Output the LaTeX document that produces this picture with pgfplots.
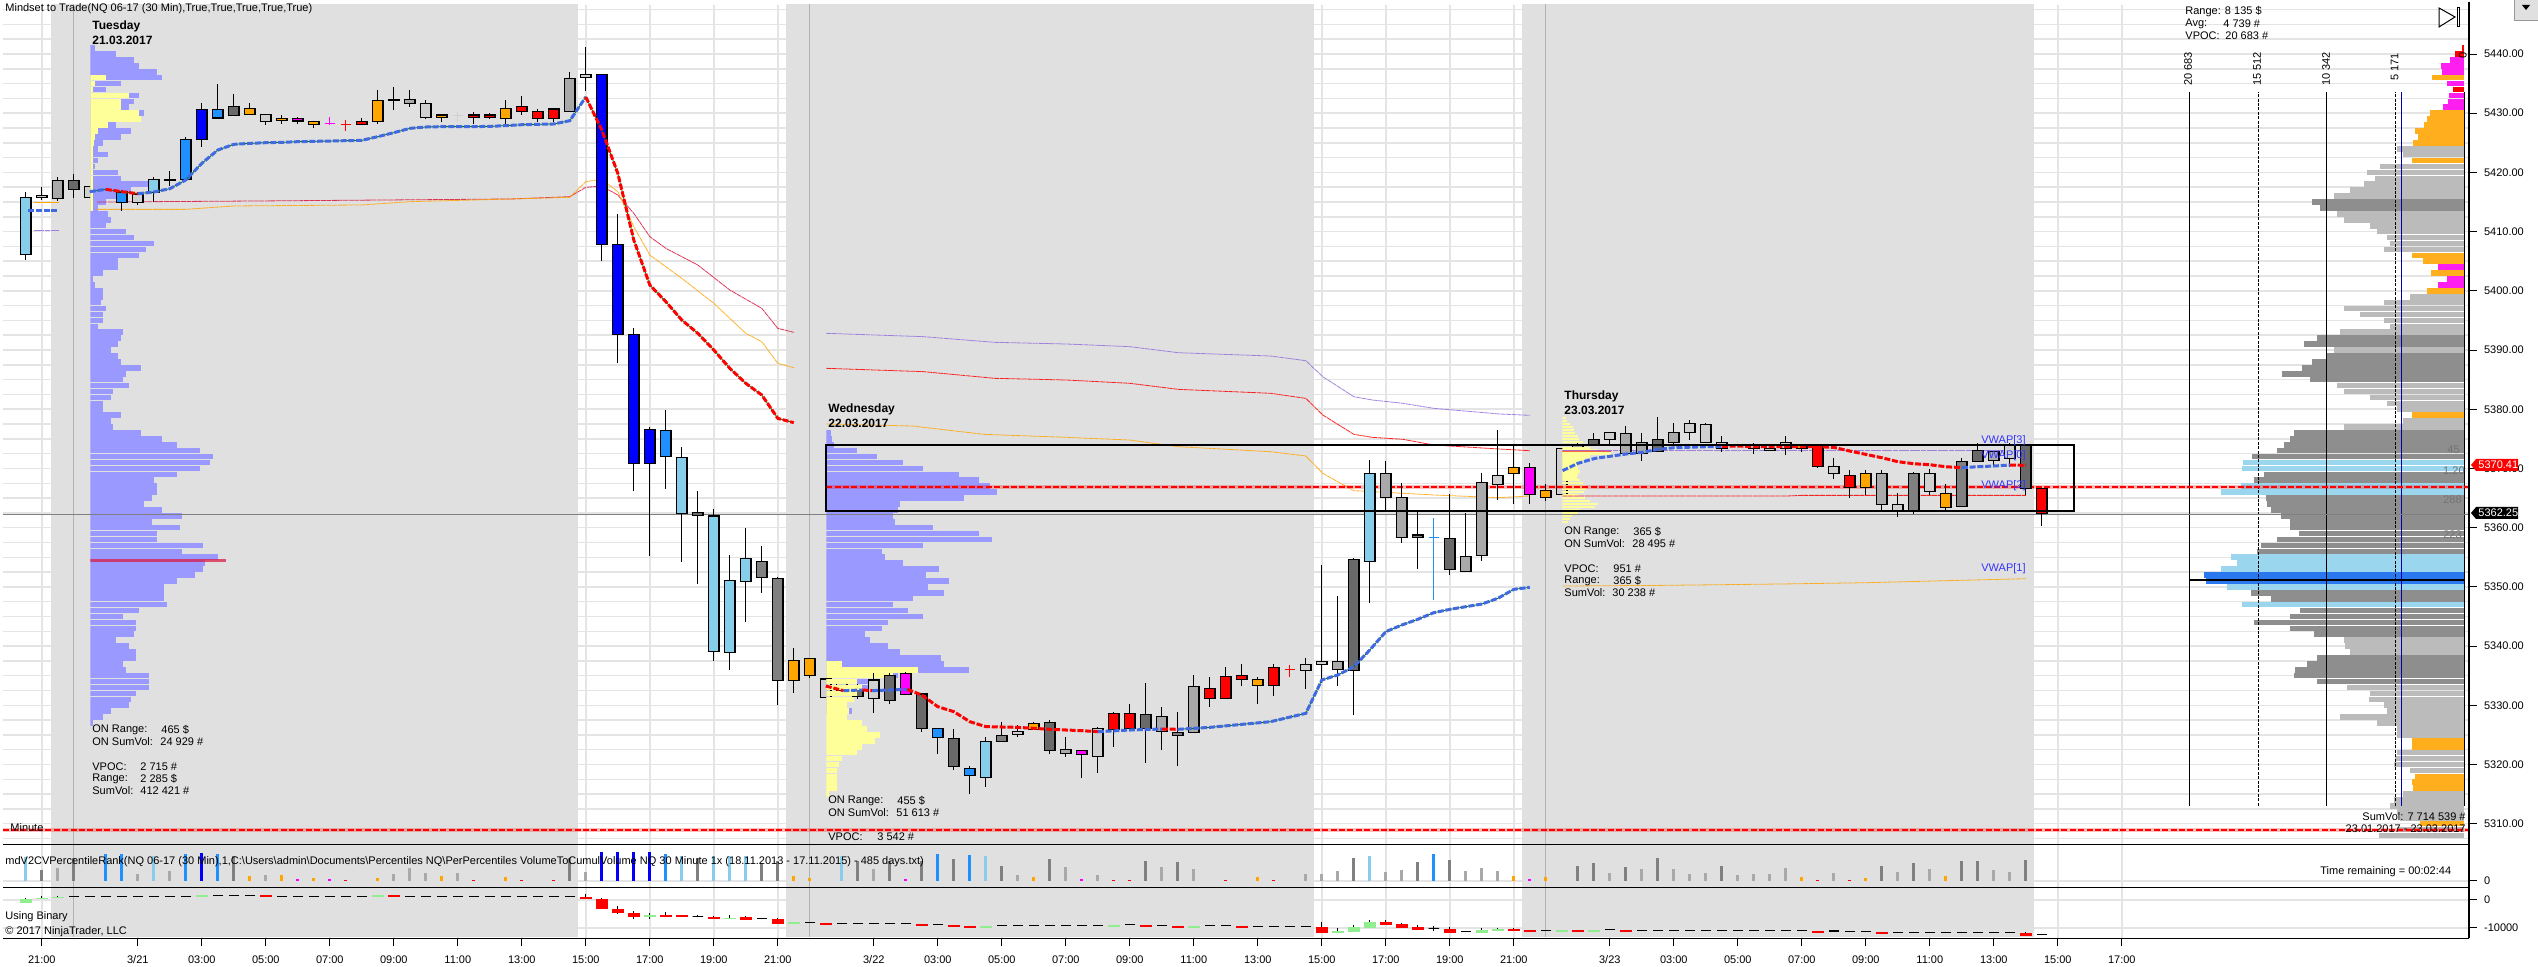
\documentclass[border=0pt]{standalone}
\usepackage{fontspec}
\setmainfont{Liberation Sans}
\usepackage{pgfplots}
\pgfplotsset{compat=1.18}
\definecolor{cSky}{HTML}{87CEEB}\definecolor{cBlu}{HTML}{0000FF}\definecolor{cDod}{HTML}{1E90FF}
\definecolor{cDim}{HTML}{696969}\definecolor{cMid}{HTML}{808080}\definecolor{cGr}{HTML}{A9A9A9}
\definecolor{cLt}{HTML}{D0D0D0}\definecolor{cOr}{HTML}{FFA500}\definecolor{cRed}{HTML}{FF0000}
\definecolor{cMag}{HTML}{FF00FF}\definecolor{cSess}{HTML}{E0E0E0}\definecolor{cGrid}{HTML}{E4E4E4}
\definecolor{cVP}{HTML}{9999FF}\definecolor{cYel}{HTML}{FFFF99}\definecolor{cGrn}{HTML}{90EE90}
\definecolor{cRoy}{HTML}{4169E1}\definecolor{cCri}{HTML}{DC143C}\definecolor{cPur}{HTML}{9370DB}
\definecolor{cRL}{HTML}{BBBBBB}\definecolor{cRD}{HTML}{8E8E8E}\definecolor{cRS}{HTML}{9AD6EE}
\definecolor{cRB}{HTML}{2A78F0}\definecolor{cRO}{HTML}{FFAF1E}\definecolor{cRM}{HTML}{FF1EF0}
\newcommand\ft{\fontsize{5.5pt}{6.5pt}\selectfont}
\newcommand\fb{\fontsize{6pt}{6.6pt}\selectfont\bfseries}
\newcommand\N[4]{\node[inner sep=0pt,font=\ft,#1] at ({(#2)*0.5pt},{(967-(#3))*0.5pt}) {#4};}
\newcommand\T[3]{\N{anchor=west}{#1}{#2}{#3}}
\newcommand\B[3]{\N{anchor=west,font=\fb}{#1}{#2}{#3}}
\newcommand\candle[6]{\pgfmathsetmacro\xa{#1-.325}\pgfmathsetmacro\xb{#1+.325}%
 \addplot[black,line width=.5pt,forget plot] coordinates {(#1,#2)(#1,#3)};%
 \addplot[fill=#6,draw=black,line width=.6pt,forget plot] coordinates {(\xa,#4)(\xb,#4)(\xb,#5)(\xa,#5)} -- cycle;}
\newcommand\doji[5]{\pgfmathsetmacro\xa{#1-.325}\pgfmathsetmacro\xb{#1+.325}%
 \addplot[#5,line width=.5pt,forget plot] coordinates {(#1,#2)(#1,#3)};%
 \addplot[#5,line width=.6pt,forget plot] coordinates {(\xa,#4)(\xb,#4)};}
\newcommand\pc[6]{\pgfmathsetmacro\xa{#1-.325}\pgfmathsetmacro\xb{#1+.325}%
 \addplot[black,line width=.5pt,forget plot] coordinates {(#1,#2)(#1,#3)};%
 \addplot[fill=#6,draw=#6,line width=.3pt,forget plot] coordinates {(\xa,#4)(\xb,#4)(\xb,#5)(\xa,#5)} -- cycle;}
\pgfplotsset{
 shx/.style={xmin=-2.425,xmax=151.7,width=1233pt,scale only axis,
  xtick={0,6,10,14,18,22,26,30,34,38,42,46,52,56,60,64,68,72,76,80,84,88,92,98,102,106,110,114,118,122,126,130},
  major grid style={cGrid,line width=.75pt},minor grid style={cGrid,line width=.75pt},
  axis line style={-},tick align=outside,tick style={black,line width=.5pt},major tick length=4pt,minor tick length=0pt,
  ticklabel style={font=\ft},y tick label style={/pgf/number format/.cd,assume math mode=true,1000 sep={}}},
 sh1/.style={ymin=5306.52,ymax=5448.28,height=419.65pt},
 ovl/.style={sh1,scale only axis,hide axis,enlargelimits=false},
 thl/.style={line width=.4pt,opacity=.85,dash pattern=on 2.5pt off .3pt},
 tkb/.style={draw=cRoy,line width=1.5pt,dash pattern=on 3pt off .9pt},
 tkr/.style={draw=cRed,line width=1.5pt,dash pattern=on 3pt off .9pt},
 tkg/.style={draw=green!45!black,line width=.4pt},
 rowA/.style={xcomb,line width=2.8pt}
}
\begin{document}
\begin{tikzpicture}
\fill[white] (0,0) rectangle (1269pt,483.5pt);
\path[use as bounding box] (0,0) rectangle (1269pt,483.5pt);
%%%%%%%% main panel: grid, sessions, candles hidden behind the profiles
\begin{axis}[shx,sh1,at={(1.5pt,61.35pt)},anchor=south west,
 axis y line*=right,axis x line*=bottom,xticklabels={},x tick style={draw=none},xmajorgrids,
 ytick={5310,5320,...,5440},minor ytick={5307.5,5310,...,5447.5},yminorgrids,
 y tick label style={/pgf/number format/.cd,fixed,fixed zerofill,precision=2,1000 sep={},assume math mode=true}]
\addplot[fill=cSess,draw=none] coordinates {(.55,5306)(33.5,5306)(33.5,5449)(.55,5449)} -- cycle;
\addplot[fill=cSess,draw=none] coordinates {(46.5,5306)(79.5,5306)(79.5,5449)(46.5,5449)} -- cycle;
\addplot[fill=cSess,draw=none] coordinates {(92.5,5306)(124.5,5306)(124.5,5449)(92.5,5449)} -- cycle;
\addplot[draw=black!30,line width=.5pt] coordinates {(2,5306)(2,5449)};
\addplot[draw=black!30,line width=.5pt] coordinates {(48,5306)(48,5449)};
\addplot[draw=black!30,line width=.5pt] coordinates {(94,5306)(94,5449)};
\candle{3}{5417.65}{5415.73}{5417.65}{5415.73}{cLt}
\candle{4}{5419.28}{5415.9}{5417.31}{5416.47}{cLt}
\candle{49}{5334.44}{5331.34}{5334.44}{5331.34}{cLt}
\candle{50}{5334.4}{5331.5}{5333.7}{5332.58}{cLt}
\candle{51}{5334}{5331}{5333.14}{5331.45}{cDim}
\candle{95}{5373.39}{5365.62}{5373.39}{5365.62}{cLt}
\candle{96}{5374.5}{5372}{5373.95}{5373.1}{cGr}
\end{axis}
%%%%%%%% profile day 1
\begin{axis}[ovl,at={(45.15pt,61.35pt)},anchor=south west,width=160pt,xmin=0,xmax=6272]
\addplot[rowA,cVP] coordinates {(100,5441)(500,5440)(850,5439)(950,5438)(1300,5437)(1400,5436)(600,5435)(300,5434)(950,5433)(850,5432)(750,5431)(1050,5430)(1000,5429)(500,5428)(800,5427)(600,5426)(250,5425)(150,5424)(350,5423)(150,5422)(100,5421)(550,5420)(600,5419)(1150,5418)(800,5417)(600,5416)(300,5415)(150,5414)(350,5413)(400,5412)(300,5411)(700,5410)(850,5409)(1250,5408)(1100,5407)(950,5406)(550,5405)(550,5404)(250,5403)(50,5402)(100,5401)(250,5400)(250,5399)(200,5398)(300,5397)(250,5396)(250,5395)(150,5394)(650,5393)(600,5392)(550,5391)(400,5390)(550,5389)(600,5388)(1000,5387)(700,5386)(650,5385)(750,5384)(450,5383)(400,5382)(250,5381)(250,5380)(600,5379)(400,5378)(450,5377)(1000,5376)(1400,5375)(1700,5374)(2150,5373)(2400,5372)(2350,5371)(2150,5370)(1700,5369)(1250,5368)(1300,5367)(1300,5366)(1200,5365)(1050,5364)(1400,5363)(1800,5362)(1200,5361)(1750,5360)(1300,5359)(1300,5358)(2200,5357)(1800,5356)(2500,5355)(2250,5354)(2200,5353)(2050,5352)(1700,5351)(1450,5350)(1450,5349)(1450,5348)(1500,5347)(950,5346)(650,5345)(900,5344)(900,5343)(850,5342)(500,5341)(750,5340)(900,5339)(900,5338)(650,5337)(700,5336)(1150,5335)(1150,5334)(1150,5333)(900,5332)(800,5331)(750,5330)(400,5329)(250,5328)(50,5327)};
\addplot[rowA,cYel] coordinates {(300,5436)(100,5435)(50,5434)(750,5433)(600,5432)(600,5431)(950,5430)(1000,5429)(350,5428)(150,5427)(100,5426)(80,5425)(50,5424)(50,5423)(50,5422)(50,5421)(50,5420)(50,5419)(50,5418)(50,5417)(50,5416)(50,5415)(50,5414)};
\addplot[xcomb,line width=1.5pt,draw=cCri,opacity=.7] coordinates {(2650,5354.4)};
\end{axis}
%%%%%%%% profile day 2
\begin{axis}[ovl,at={(413.15pt,61.35pt)},anchor=south west,width=160pt,xmin=0,xmax=6272]
\addplot[rowA,cVP] coordinates {(100,5376)(120,5375)(150,5374)(600,5373)(1000,5372)(1500,5371)(1900,5370)(2600,5369)(3000,5368)(3200,5367)(3350,5366)(2700,5365)(1450,5364)(1400,5363)(1300,5362)(1350,5361)(2100,5360)(3000,5359)(3250,5358)(1900,5357)(1100,5356)(1150,5355)(1500,5354)(2200,5353)(1950,5352)(2400,5351)(2000,5350)(2300,5349)(1700,5348)(1300,5347)(1600,5346)(1900,5345)(1200,5344)(1100,5343)(750,5342)(850,5341)(1200,5340)(1450,5339)(2250,5338)(2300,5337)(2800,5336)(1400,5335)(1000,5334)(850,5333)(600,5332)(550,5331)(400,5330)(500,5329)};
\addplot[rowA,cYel] coordinates {(300,5337)(1800,5336)(1300,5335)(600,5334)(700,5333)(600,5332)(550,5331)(400,5330)(450,5329)(400,5328)(700,5327)(800,5326)(1050,5325)(950,5324)(700,5323)(600,5322)(300,5321)(250,5320)(200,5319)(200,5318)(200,5317)(200,5316)(50,5315)};
\end{axis}
%%%%%%%% profile day 3
\begin{axis}[ovl,at={(781.15pt,61.35pt)},anchor=south west,width=60pt,xmin=0,xmax=2352]
\addplot[xcomb,line width=1.2pt,cYel] coordinates {(70,5378.5)(100,5378)(150,5377.5)(200,5377)(230,5376.5)(240,5376)(300,5375.5)(330,5375)(400,5374.5)(450,5374)(550,5373.5)(700,5373)(951,5372.5)(550,5372)(450,5371.5)(350,5371)(280,5370.5)(300,5370)(350,5369.5)(300,5369)(280,5368.5)(350,5368)(400,5367.5)(450,5367)(470,5366.5)(430,5366)(300,5365.5)(450,5365)(550,5364.5)(700,5364)(650,5363.5)(350,5363)(300,5362.5)(180,5362)(150,5361.5)(120,5361)};
\addplot[xcomb,line width=1.2pt,draw=cRed,opacity=.6] coordinates {(951,5372.94)};
\end{axis}
%%%%%%%% right-hand volume profile
\begin{axis}[ovl,at={(1094.65pt,61.35pt)},anchor=south west,width=137.5pt,xmin=0,xmax=20683,x dir=reverse,clip=false]
\addplot[rowA,cRL] coordinates {(5075,5424)(4575,5423)(6325,5421)(7325,5420)(6700,5419)(7575,5418)(8575,5417)(9825,5416)(9575,5413)(9075,5412)(7075,5411)(6575,5410)(5825,5409)(5575,5408)(6075,5407)(4075,5399)(6075,5398)(9075,5397)(7825,5396)(6075,5395)(5575,5394)(9325,5393)(9825,5390)(9575,5384)(9075,5383)(7075,5382)(5825,5381)(5075,5380)(4575,5378)(9075,5377)(9075,5341)(8950,5340)(8575,5339)(8825,5333)(7075,5332)(7200,5331)(6075,5330)(5825,5329)(9325,5328)(6575,5327)(5075,5326)(5075,5325)(5075,5322)(5200,5321)(5325,5320)(4075,5319)(4575,5315)(5325,5314)(5575,5313)(5075,5312)(4825,5311)(5075,5309)(6450,5308)};
\addplot[rowA,cRD] coordinates {(11450,5415)(10825,5414)(11075,5392)(12075,5391)(10325,5389)(11450,5388)(12200,5387)(13700,5386)(11575,5385)(12825,5376)(13075,5375)(13575,5374)(14075,5373)(15950,5372)(15075,5369)(15825,5368)(14950,5365)(14825,5364)(14575,5363)(13825,5362)(13075,5361)(13075,5360)(12450,5359)(14075,5358)(15325,5357)(15575,5356)(16075,5349)(14575,5348)(12325,5346)(13075,5345)(15825,5344)(13075,5343)(11325,5342)(11075,5338)(11825,5337)(12700,5336)(12825,5335)(11075,5334)};
\addplot[rowA,cRS] coordinates {(16625,5371)(16700,5370)(16825,5367)(18325,5366)(17575,5355)(17075,5354)(18325,5353)(17825,5350)(16700,5347)};
\addplot[rowA,cRB] coordinates {(19575,5352)(19450,5351)};
\addplot[rowA,cRO] coordinates {(2450,5436)(2575,5430)(2825,5429)(3025,5428)(3700,5427)(3450,5426)(3825,5425)(3950,5422)(3950,5406)(3075,5405)(2500,5403)(2825,5400)(3950,5379)(3950,5324)(3950,5323)(3700,5318)(3950,5317)(3825,5316)(3325,5310)};
\addplot[rowA,cRM] coordinates {(1075,5439)(1775,5438)(1700,5437)(1325,5435)(1125,5433)(1200,5432)(1575,5431)(1950,5404)(1325,5402)(1950,5401)};
\addplot[rowA,cRed] coordinates {(200,5441)(700,5440)(825,5434)};
\addplot[black,line width=.5pt] coordinates {(20683,5313.05)(20683,5433.6)};
\addplot[black,line width=.5pt,dash pattern=on 1.5pt off .7pt] coordinates {(15512,5313.05)(15512,5433.6)};
\addplot[black,line width=.5pt] coordinates {(10342,5313.05)(10342,5433.6)};
\addplot[black,line width=.5pt,dash pattern=on 1.5pt off .7pt] coordinates {(5171,5313.05)(5171,5433.6)};
\addplot[blue!70!black,line width=.5pt] coordinates {(4739,5313.05)(4739,5433.6)};
\addplot[black,line width=.5pt] coordinates {(0,5313.05)(0,5433.6)};
\addplot[black,line width=.75pt] coordinates {(20683,5351.2)(0,5351.2)};
\end{axis}
%%%%%%%% candles and VWAP lines on top
\begin{axis}[shx,ovl,at={(1.5pt,61.35pt)},anchor=south west,xtick=\empty]
\addplot[cCri,thl] coordinates {(3.44,5415)(13.3,5415.17)(29.3,5415.51)(33,5415.9)(34,5417.48)(35,5417.7)(36,5416.18)(37,5413.09)(38,5409.15)(39,5407.18)(41,5404.36)(43,5400.14)(45,5397.04)(46,5393.66)(47,5392.99)};
\addplot[cOr,thl] coordinates {(3.44,5413.76)(9,5413.76)(12,5414.33)(20,5414.5)(23,5415.06)(29.3,5415.51)(33,5415.79)(34,5418.44)(35,5418.83)(36,5416.75)(37,5410.84)(38,5406.05)(40,5402.11)(42,5397.89)(44,5392.82)(45,5391.41)(46,5387.75)(47,5387.02)};
\addplot[cOr,line width=.6pt] coordinates {(-.5,5414.95)(1.05,5414.95)};
\addplot[cPur,thl] coordinates {(-.5,5410.16)(1.05,5410.16)};
\addplot[cPur,thl] coordinates {(49.03,5392.82)(55.09,5392.26)(59.56,5391.3)(64.02,5391.02)(68,5390.57)(71.03,5389.55)(76.8,5388.99)(79,5388.2)(80.06,5385.5)(82,5382.12)(83.16,5381.56)(85.07,5381)(87,5380.15)(91.1,5379.2)(93,5378.97)};
\addplot[cRed,thl] coordinates {(49.03,5386.91)(55.09,5386.35)(59.56,5385.22)(64.02,5384.94)(68,5384.38)(71.03,5383.36)(76.8,5382.69)(79,5381.84)(80.06,5379.03)(82,5375.76)(83.16,5375.25)(85.07,5374.92)(87,5373.96)(91.1,5373.28)(93,5373)};
\addplot[cOr,thl] coordinates {(49.03,5377.51)(54.4,5377.17)(58.9,5375.76)(64.02,5375.25)(68,5374.8)(71.03,5373.68)(76.8,5372.83)(79,5372.1)(80.06,5369.17)(82,5366.25)(83.16,5366.08)(85.07,5365.8)(87,5365.52)(91.1,5365.07)(93,5365.35)};
\addplot[cPur,thl] coordinates {(95.05,5373.05)(124,5373.05)};
\addplot[cRed,thl] coordinates {(95.05,5365.34)(109,5365.34)(110,5365.45)(124,5365.45)};
\addplot[cOr,thl] coordinates {(95.05,5350.14)(101.2,5350.25)(108.6,5350.48)(114,5350.7)(124,5351.38)};
%% horizontal reference lines
\addplot[cMid,line width=.6pt] coordinates {(-2.4,5362.25)(151.7,5362.25)};
\addplot[cRed,opacity=.25,line width=2pt] coordinates {(-2.4,5308.9)(151.7,5308.9)};
\addplot[cRed,line width=1pt,dash pattern=on 3pt off 1.2pt] coordinates {(-2.4,5308.9)(151.7,5308.9)};
\addplot[cRed,opacity=.25,line width=2pt] coordinates {(49.03,5366.9)(151.7,5366.9)};
\addplot[cRed,line width=1pt,dash pattern=on 3pt off 1.2pt] coordinates {(49.03,5366.9)(151.7,5366.9)};
%% candles
\candle{-1}{5416.63}{5405.26}{5415.79}{5406.16}{cSky}
\candle{0}{5417.59}{5415.34}{5416.13}{5415.79}{cLt}
\candle{1}{5419.17}{5415.17}{5418.66}{5415.57}{cGr}
\candle{2}{5419.68}{5415.68}{5418.66}{5417.14}{cDim}
\candle{5}{5417.03}{5413.54}{5416.69}{5414.89}{cDod}
\candle{6}{5416.75}{5414.5}{5416.35}{5414.89}{cLt}
\candle{7}{5419.28}{5414.95}{5418.77}{5416.58}{cSky}
\candle{8}{5420.18}{5417.7}{5418.83}{5418.61}{black}
\candle{9}{5425.92}{5418.72}{5425.59}{5418.77}{cDod}
\candle{10}{5431.72}{5424.29}{5430.65}{5425.59}{cBlu}
\candle{11}{5434.93}{5429.02}{5430.65}{5429.19}{cDod}
\candle{12}{5433.24}{5429.58}{5431.16}{5429.58}{cDim}
\candle{13}{5431.72}{5429.75}{5430.82}{5429.75}{cOr}
\candle{14}{5429.81}{5428.01}{5429.81}{5428.63}{cLt}
\candle{15}{5429.64}{5428.18}{5429.13}{5428.8}{cOr}
\candle{16}{5429.3}{5428.23}{5429.13}{5428.68}{cMag}
\candle{17}{5428.74}{5427.5}{5428.63}{5428.12}{cOr}
\doji{18}{5429.3}{5427.95}{5428.29}{cMag}
\doji{19}{5428.8}{5426.99}{5428.12}{cRed}
\candle{20}{5429.19}{5428.06}{5428.63}{5428.06}{cRed}
\candle{21}{5433.92}{5428.23}{5432.17}{5428.63}{cOr}
\candle{22}{5434.43}{5430.54}{5432.34}{5432.12}{black}
\candle{23}{5433.92}{5431.05}{5432.34}{5431.61}{cGr}
\candle{24}{5432.23}{5429.08}{5431.67}{5429.25}{cLt}
\candle{25}{5429.7}{5428.51}{5429.7}{5429.25}{cOr}
\doji{26}{5430.2}{5428.57}{5429.64}{cLt}
\candle{27}{5430.15}{5428.18}{5429.7}{5429.25}{cRed}
\candle{28}{5429.98}{5429.08}{5429.7}{5429.25}{cRed}
\candle{29}{5432.23}{5428.18}{5430.82}{5429.13}{cOr}
\candle{30}{5432.91}{5429.7}{5431.16}{5430.32}{cRed}
\candle{31}{5430.77}{5428.46}{5430.32}{5429.08}{cRed}
\candle{32}{5430.82}{5428.46}{5430.71}{5429.08}{cRed}
\candle{33}{5436.9}{5430.26}{5435.89}{5430.32}{cGr}
\candle{34}{5441.18}{5433.81}{5436.57}{5436}{cLt}
\candle{35}{5436.57}{5405.09}{5436.57}{5407.8}{cBlu}
\candle{36}{5412.98}{5387.81}{5407.85}{5392.65}{cBlu}
\candle{37}{5393.72}{5366.19}{5392.65}{5370.81}{cBlu}
\candle{38}{5376.94}{5355.21}{5376.61}{5370.81}{cBlu}
\candle{39}{5379.87}{5366.53}{5376.44}{5372.05}{cDod}
\candle{40}{5373.62}{5354.25}{5371.88}{5362.42}{cSky}
\candle{41}{5366.19}{5350.48}{5362.59}{5362.08}{cDim}
\candle{42}{5363.1}{5337.54}{5361.97}{5339.06}{cSky}
\candle{43}{5355.38}{5335.96}{5351.1}{5338.89}{cSky}
\candle{44}{5359.94}{5344.07}{5354.82}{5350.88}{cSky}
\candle{45}{5356.9}{5349.02}{5354.31}{5351.55}{cMid}
\candle{46}{5351.61}{5330.05}{5351.44}{5334.16}{cMid}
\candle{47}{5339.62}{5332.13}{5337.59}{5334.16}{cOr}
\candle{48}{5337.93}{5334.66}{5337.93}{5335}{cOr}
\candle{52}{5335.4}{5328.75}{5334.27}{5331.12}{cLt}
\candle{53}{5335.5}{5330.27}{5335}{5330.83}{cDim}
\candle{54}{5335.6}{5331.7}{5335.39}{5331.85}{cMag}
\candle{55}{5332}{5325.54}{5331.9}{5326.1}{cDim}
\candle{56}{5326.1}{5321.83}{5326.1}{5324.58}{cDod}
\candle{57}{5325.99}{5319.12}{5324.42}{5319.69}{cDim}
\candle{58}{5319.69}{5315.07}{5319.35}{5318.17}{cDod}
\candle{59}{5324.58}{5316.25}{5323.91}{5317.83}{cSky}
\candle{60}{5327.17}{5323.85}{5324.92}{5323.91}{cMid}
\candle{61}{5326.61}{5324.58}{5325.6}{5325.09}{cLt}
\candle{62}{5327.23}{5325.9}{5326.95}{5325.94}{cOr}
\candle{63}{5327.46}{5321.71}{5327.12}{5322.39}{cDim}
\candle{64}{5324.58}{5321.32}{5322.56}{5321.88}{cGr}
\candle{65}{5322.39}{5317.77}{5322.39}{5321.71}{cMag}
\candle{66}{5326.27}{5318.62}{5326.1}{5321.38}{cLt}
\candle{67}{5328.81}{5323.01}{5328.64}{5325.94}{cRed}
\candle{68}{5330.16}{5326.1}{5328.64}{5326.1}{cRed}
\candle{69}{5333.76}{5320.31}{5328.47}{5326.1}{cDim}
\candle{70}{5329.65}{5322.45}{5328.13}{5325.6}{cGr}
\candle{71}{5328.81}{5319.8}{5325.43}{5324.92}{cMid}
\candle{72}{5335.11}{5325.43}{5333.2}{5325.43}{cGr}
\candle{73}{5334.77}{5329.76}{5332.86}{5331.17}{cRed}
\candle{74}{5336.46}{5331.17}{5334.89}{5331.17}{cRed}
\candle{75}{5336.97}{5333.31}{5335.06}{5334.38}{cRed}
\candle{76}{5334.77}{5330.27}{5334.38}{5333.37}{cOr}
\candle{77}{5336.97}{5331.62}{5336.41}{5333.37}{cRed}
\doji{78}{5336.75}{5334.83}{5336.07}{cRed}
\candle{79}{5337.93}{5332.8}{5336.91}{5335.9}{cLt}
\candle{80}{5353.69}{5333.7}{5337.42}{5336.91}{cLt}
\candle{81}{5348.46}{5333.31}{5337.42}{5336.07}{cGr}
\candle{82}{5354.82}{5328.41}{5354.65}{5335.9}{cDim}
\candle{83}{5371.43}{5347.33}{5369.17}{5354.31}{cSky}
\candle{84}{5371.26}{5362.98}{5369.17}{5365.12}{cGr}
\candle{85}{5367.48}{5357.35}{5365.12}{5358.36}{cGr}
\candle{86}{5362.76}{5353.07}{5358.76}{5358.36}{cMid}
\doji{87}{5361.57}{5347.78}{5358.36}{cDod}
\candle{88}{5365.63}{5352}{5358.2}{5352.96}{cDim}
\candle{89}{5362.42}{5352.62}{5355.16}{5352.62}{cGr}
\candle{90}{5369.17}{5354.31}{5367.65}{5355.32}{cGr}
\candle{91}{5376.44}{5364.61}{5368.84}{5367.32}{cLt}
\candle{92}{5373.9}{5363.94}{5370.19}{5369.17}{cOr}
\candle{93}{5370.86}{5363.94}{5370.19}{5365.63}{cMag}
\candle{94}{5367.32}{5364.45}{5366.3}{5365.12}{cOr}
\candle{97}{5375.92}{5373.95}{5374.91}{5373.95}{cDim}
\candle{98}{5376.09}{5373.95}{5376.09}{5374.91}{cLt}
\candle{99}{5377.11}{5372.55}{5375.92}{5372.55}{cGr}
\candle{100}{5375.92}{5371.25}{5374.4}{5372.55}{cGr}
\candle{101}{5378.68}{5372.88}{5374.91}{5372.88}{cDim}
\candle{102}{5377.61}{5373.9}{5376.09}{5374.4}{cGr}
\candle{103}{5378.12}{5374.8}{5377.61}{5376.09}{cLt}
\candle{104}{5377.61}{5374.4}{5377.45}{5374.4}{cLt}
\candle{105}{5375.42}{5372.83}{5374.4}{5373.39}{cLt}
\doji{106}{5374.69}{5372.83}{5373.79}{cLt}
\candle{107}{5374.24}{5372.49}{5373.9}{5373.39}{cLt}
\candle{108}{5373.95}{5373.05}{5373.39}{5373.05}{cLt}
\candle{109}{5375.42}{5372.27}{5374.4}{5373.39}{cLt}
\candle{110}{5373.9}{5372.83}{5373.9}{5373.39}{cOr}
\candle{111}{5373.9}{5370.07}{5373.9}{5370.35}{cRed}
\candle{112}{5371.7}{5368.27}{5370.35}{5369.17}{cLt}
\candle{113}{5369.68}{5365.06}{5368.83}{5366.8}{cRed}
\candle{114}{5369.68}{5365.45}{5369.17}{5366.8}{cOr}
\candle{115}{5369.68}{5362.92}{5369.17}{5363.93}{cGr}
\candle{116}{5365.79}{5361.85}{5363.93}{5362.92}{cLt}
\candle{117}{5369.34}{5362.36}{5369.17}{5362.92}{cMid}
\candle{118}{5369.84}{5365.45}{5369.17}{5366.13}{cLt}
\candle{119}{5367.31}{5362.92}{5365.79}{5363.43}{cOr}
\candle{120}{5371.7}{5363.6}{5371.2}{5363.6}{cMid}
\candle{121}{5374.24}{5371.2}{5373.05}{5371.2}{cDim}
\candle{122}{5372.88}{5370.52}{5372.88}{5371.36}{cGr}
\candle{123}{5374.24}{5370.18}{5373.9}{5371.7}{cLt}
\candle{124}{5373.9}{5365.45}{5373.9}{5366.64}{cDim}
\candle{125}{5366.64}{5360.33}{5366.64}{5362.41}{cRed}
%% thick VWAP
\addplot[tkg] coordinates {(3,5416.75)(4,5417.14)(5,5416.75)(6,5416.41)(7,5416.69)(8,5417.25)(9,5418.72)(10,5421.53)(11,5423.78)(12,5424.74)(13,5424.91)(14,5425.02)(15,5425.08)(16,5425.19)(17,5425.25)(18,5425.3)(19,5425.36)(20,5425.42)(21,5426.04)(22,5426.71)(23,5427.44)(24,5427.67)(25,5427.73)(27,5427.73)(28,5427.78)(29,5427.9)(30,5428.06)(31,5428.12)(32,5428.18)(33,5428.74)(34,5432.74)(35,5427.16)(36,5419.84)(37,5408.58)(38,5400.98)(39,5398.17)(40,5395.07)(41,5392.82)(42,5390.01)(43,5386.91)(44,5384.37)(45,5382.4)(46,5378.46)(47,5377.73)};
\addplot[tkb] coordinates {(-.86,5413.54)(1.05,5413.54)};
\addplot[tkb] coordinates {(3,5416.75)(4,5417.14)};
\addplot[tkr] coordinates {(4,5417.14)(5,5416.75)(6,5416.41)};
\addplot[tkb] coordinates {(6,5416.41)(7,5416.69)(8,5417.25)(9,5418.72)(10,5421.53)(11,5423.78)(12,5424.74)(13,5424.91)(14,5425.02)(15,5425.08)(16,5425.19)(17,5425.25)(18,5425.3)(19,5425.36)(20,5425.42)(21,5426.04)(22,5426.71)(23,5427.44)(24,5427.67)(25,5427.73)(27,5427.73)(28,5427.78)(29,5427.9)(30,5428.06)(31,5428.12)(32,5428.18)(33,5428.74)(34,5432.74)};
\addplot[tkr] coordinates {(34,5432.74)(35,5427.16)(36,5419.84)(37,5408.58)(38,5400.98)(39,5398.17)(40,5395.07)(41,5392.82)(42,5390.01)(43,5386.91)(44,5384.37)(45,5382.4)(46,5378.46)(47,5377.73)};
\addplot[tkr] coordinates {(49,5333.25)(50.1,5332.47)};
\addplot[tkb] coordinates {(50.1,5332.47)(51.3,5332.58)};
\addplot[tkr] coordinates {(51.3,5332.58)(51.9,5332.47)};
\addplot[tkb] coordinates {(51.9,5332.47)(54.1,5332.69)};
\addplot[tkr] coordinates {(54.1,5332.69)(55,5331.73)(56,5329.76)(57,5328.92)(58,5327.23)(59,5326.39)(61,5326.27)(63,5325.94)(65,5325.71)(66,5325.54)};
\addplot[tkb] coordinates {(66,5325.54)(68,5325.82)(70,5325.99)};
\addplot[tkr] coordinates {(70,5325.99)(71,5325.94)};
\addplot[tkg] coordinates {(71,5325.94)(73,5326.27)(76.8,5327.23)(79,5328.64)(80,5334.27)(81,5335.11)(82,5336.52)(83,5339.34)(84,5342.43)(85,5343.56)(86,5344.52)(87,5345.64)(88,5346.2)(90,5347.1)(91,5348.06)(92,5349.58)(93,5349.92)};
\addplot[tkb] coordinates {(71,5325.94)(73,5326.27)(76.8,5327.23)(79,5328.64)(80,5334.27)(81,5335.11)(82,5336.52)(83,5339.34)(84,5342.43)(85,5343.56)(86,5344.52)(87,5345.64)(88,5346.2)(90,5347.1)(91,5348.06)(92,5349.58)(93,5349.92)};
\addplot[tkb] coordinates {(95.05,5369.62)(96,5370.86)(97.07,5371.7)(99,5372.43)(100,5372.72)(101,5373.22)(102,5373.5)(104,5373.67)(105,5373.73)};
\addplot[tkr] coordinates {(105,5373.73)(106,5373.79)(107,5373.67)(109,5373.67)(111,5373.67)(112,5373.56)(113,5372.94)(115,5371.81)(116,5371.14)(117,5370.8)(118,5370.63)(119,5370.29)(120,5370.13)};
\addplot[tkb] coordinates {(120,5370.13)(121,5370.29)(122,5370.41)(123,5370.58)};
\addplot[tkr] coordinates {(123,5370.58)(124,5370.52)};
%% rectangle
\addplot[black,line width=1pt] coordinates {(49.03,5373.96)(127,5373.96)(127,5362.87)(49.03,5362.87)} -- cycle;
\end{axis}
%%%%%%%% main panel texts
\T{5}{9}{Mindset to Trade(NQ 06-17 (30 Min),True,True,True,True,True)}
\B{92}{26.7}{Tuesday}\B{92}{40.7}{21.03.2017}
\B{828}{409.7}{Wednesday}\B{828}{423.5}{22.03.2017}
\B{1564}{396.7}{Thursday}\B{1564}{410.7}{23.03.2017}
\T{92}{730}{ON Range:}\T{161}{730}{465 \$}
\T{92}{742}{ON SumVol:}\T{160}{742}{24 929 \#}
\T{92}{767}{VPOC:}\T{140}{767}{2 715 \#}
\T{92}{779}{Range:}\T{140}{779}{2 285 \$}
\T{92}{791}{SumVol:}\T{140}{791}{412 421 \#}
\T{828}{800.7}{ON Range:}\T{897}{800.7}{455 \$}
\T{828}{812.5}{ON SumVol:}\T{896}{812.5}{51 613 \#}
\T{828}{836.7}{VPOC:}\T{877}{836.7}{3 542 \#}
\T{1564}{532}{ON Range:}\T{1633}{532}{365 \$}
\T{1564}{544}{ON SumVol:}\T{1632}{544}{28 495 \#}
\T{1564}{569}{VPOC:}\T{1613}{569}{951 \#}
\T{1564}{581}{Range:}\T{1613}{581}{365 \$}
\T{1564}{593}{SumVol:}\T{1612}{593}{30 238 \#}
\N{anchor=east,text=blue!80}{2026}{440.7}{VWAP[3]}
\N{anchor=east,text=blue!80}{2026}{456}{VWAP[0]}
\N{anchor=east,text=blue!80}{2026}{486}{VWAP[2]}
\N{anchor=east,text=blue!80}{2026}{569}{VWAP[1]}
\T{10}{828}{Minute}
\T{2185}{12}{Range: 8 135 \$}
\T{2185}{24}{Avg:}\T{2223}{24}{4 739 \#}
\T{2185}{36}{VPOC:}\T{2225}{36}{20 683 \#}
\N{rotate=90,anchor=west}{2188}{86}{20 683}
\N{rotate=90,anchor=west}{2257}{86}{15 512}
\N{rotate=90,anchor=west}{2326}{86}{10 342}
\N{rotate=90,anchor=west}{2394.7}{81}{5 171}
\N{rotate=90,anchor=west}{2462.7}{59}{0}
\N{anchor=east}{2466}{817}{SumVol: 7 714 539 \#}
\N{anchor=east}{2466}{829}{23.01.2017 - 23.03.2017}
\N{anchor=east,text=black!55}{2460}{450}{45}
\N{anchor=east,text=black!55}{2465}{471}{1.20}
\N{anchor=east,text=black!55}{2462}{500}{288}
\N{anchor=east,text=black!55}{2462}{535}{223}
%%%%%%%% percentile panel
\begin{axis}[shx,at={(1.5pt,39.85pt)},anchor=south west,height=21.5pt,ymin=-19,ymax=110,
 axis y line*=right,axis x line*=bottom,xticklabels={},x tick style={draw=none},xmajorgrids,ymajorgrids,ytick={0}]
\addplot[fill=cSess,draw=none] coordinates {(.55,-19)(33.5,-19)(33.5,110)(.55,110)} -- cycle;
\addplot[fill=cSess,draw=none] coordinates {(46.5,-19)(79.5,-19)(79.5,110)(46.5,110)} -- cycle;
\addplot[fill=cSess,draw=none] coordinates {(92.5,-19)(124.5,-19)(124.5,110)(92.5,110)} -- cycle;
\addplot[draw=black!30,line width=.5pt] coordinates {(2,-19)(2,110)};
\addplot[draw=black!30,line width=.5pt] coordinates {(48,-19)(48,110)};
\addplot[draw=black!30,line width=.5pt] coordinates {(94,-19)(94,110)};
\addplot[ycomb,line width=1.5pt,cSky] coordinates {(-1,72)(7,75)(40,75)(42,75)(43,75)(44,75)(50,75)(59,75)(83,75)};
\addplot[ycomb,line width=1.5pt,cBlu] coordinates {(10,85)(35,87)(36,87)(37,87)(38,87)};
\addplot[ycomb,line width=1.5pt,cDod] coordinates {(4,80)(5,80)(9,80)(11,80)(39,80)(56,80)(58,78)(87,81)};
\addplot[ycomb,line width=1.5pt,cMid] coordinates {(0,33)(2,68)(12,75)(33,68)(41,70)(45,55)(46,60)(51,60)(53,60)(55,60)(57,66)(60,45)(63,66)(69,60)(71,57)(82,69)(86,57)(88,63)(96,45)(97,54)(99,42)(101,69)(105,45)(115,45)(117,54)(120,60)(121,60)(124,63)};
\addplot[ycomb,line width=1.5pt,cGr] coordinates {(1,40)(6,22)(8,30)(14,18)(22,20)(23,38)(24,24)(26,24)(34,27)(52,36)(61,18)(64,42)(66,18)(70,42)(72,36)(79,21)(80,21)(81,30)(84,27)(85,33)(89,30)(90,39)(91,30)(98,24)(100,36)(102,36)(103,21)(104,24)(106,18)(107,21)(108,21)(109,39)(112,24)(116,27)(118,36)(122,33)(123,27)};
\addplot[ycomb,line width=1.5pt,cOr] coordinates {(13,15)(15,18)(17,9)(21,8)(25,14)(29,12)(47,15)(48,9)(62,12)(76,12)(92,15)(94,12)(110,12)(114,9)(119,15)};
\addplot[ycomb,line width=1.5pt,cMag] coordinates {(16,5)(18,5)(54,6)(65,6)(93,6)};
\addplot[ycomb,line width=1.5pt,cRed] coordinates {(19,3)(27,3)(30,3)(32,3)(67,3)(68,3)(74,3)(77,3)(111,3)(113,3)};
\end{axis}
\T{5}{862}{mdV2CVPercentileRank(NQ 06-17 (30 Min),1,C:\textbackslash Users\textbackslash admin\textbackslash Documents\textbackslash Percentiles NQ\textbackslash PerPercentiles VolumeToCumulVolume NQ 30 Minute 1x (18.11.2013 - 17.11.2015) - 485 days.txt)}
\T{2320}{872}{Time remaining = 00:02:44}
%%%%%%%% binary panel
\begin{axis}[shx,at={(1.5pt,14.35pt)},anchor=south west,height=25.5pt,ymin=-13680,ymax=4536,
 axis y line*=right,axis x line*=bottom,xmajorgrids,ymajorgrids,ytick={0,-10000},
 xticklabels={21:00,3/21,03:00,05:00,07:00,09:00,11:00,13:00,15:00,17:00,19:00,21:00,3/22,03:00,05:00,07:00,09:00,11:00,13:00,15:00,17:00,19:00,21:00,3/23,03:00,05:00,07:00,09:00,11:00,13:00,15:00,17:00},
 x tick label style={yshift=-1pt},scaled y ticks=false,
 y tick label style={/pgf/number format/.cd,fixed,1000 sep={},assume math mode=true}]
\addplot[fill=cSess,draw=none] coordinates {(.55,-13107)(33.5,-13107)(33.5,4536)(.55,4536)} -- cycle;
\addplot[fill=cSess,draw=none] coordinates {(46.5,-13107)(79.5,-13107)(79.5,4536)(46.5,4536)} -- cycle;
\addplot[fill=cSess,draw=none] coordinates {(92.5,-13107)(124.5,-13107)(124.5,4536)(92.5,4536)} -- cycle;
\addplot[draw=black!30,line width=.5pt] coordinates {(2,-13107)(2,4536)};
\addplot[draw=black!30,line width=.5pt] coordinates {(48,-13107)(48,4536)};
\addplot[draw=black!30,line width=.5pt] coordinates {(94,-13107)(94,4536)};
\addplot[only marks,mark=-,mark size=2.6pt,mark options={black,line width=.7pt}] coordinates {(2,1309)(3,1309)(4,1309)(5,1309)(6,1309)(7,1309)(8,1309)(9,1309)(11,1666)(12,1666)(13,1666)(15,1309)(16,1309)(17,1309)(18,1309)(19,1309)(20,1309)(23,1309)(24,1309)(25,1309)(26,1309)(27,1309)(28,1309)(29,1309)(30,1309)(31,1309)(32,1309)(33,1309)(45,-6545)(48,-7973)(50,-8330)(51,-8330)(52,-8330)(53,-8330)(54,-8330)(56,-8687)(60,-9044)(61,-9044)(62,-9044)(63,-9044)(64,-9044)(65,-9044)(66,-9044)(68,-8687)(70,-9044)(73,-9044)(74,-9044)(76,-9401)(77,-9401)(78,-9401)(79,-9401)(89,-11186)(94,-10829)(98,-10472)(100,-10829)(101,-10829)(102,-10829)(103,-10829)(104,-10829)(105,-10829)(106,-10829)(107,-10829)(108,-10829)(109,-10829)(110,-10829)(112,-11067)(113,-11186)(114,-11186)(116,-11543)(117,-11543)(118,-11543)(119,-11543)(120,-11543)(121,-11543)(122,-11543)(123,-11543)(125,-12257)};
\pc{-1}{714}{-952}{238}{-952}{cGrn}
\pc{0}{1428}{476}{714}{476}{cGrn}
\pc{1}{1428}{833}{1071}{833}{cGrn}
\pc{10}{1785}{1190}{1547}{1190}{cGrn}
\pc{14}{1785}{1190}{1547}{1190}{cRed}
\pc{21}{1785}{1190}{1547}{1190}{cGrn}
\pc{22}{1785}{1190}{1547}{1190}{cRed}
\pc{34}{2023}{476}{1071}{476}{cRed}
\pc{35}{714}{-3094}{238}{-3094}{cRed}
\pc{36}{-2142}{-4879}{-3332}{-4522}{cRed}
\pc{37}{-4046}{-6664}{-4760}{-5950}{cRed}
\pc{38}{-4760}{-6664}{-5355}{-5950}{cGrn}
\pc{39}{-4284}{-5712}{-5355}{-5712}{cRed}
\pc{40}{-5593}{-5950}{-5593}{-5950}{cRed}
\pc{41}{-5236}{-6069}{-5831}{-5831}{black}
\pc{42}{-5593}{-6664}{-6069}{-6664}{cRed}
\pc{43}{-5355}{-6664}{-6426}{-6664}{cGrn}
\pc{44}{-5712}{-7021}{-6307}{-6783}{cRed}
\pc{46}{-6545}{-8449}{-6902}{-8449}{cRed}
\pc{47}{-8092}{-8330}{-8092}{-8330}{cGrn}
\pc{49}{-8211}{-8568}{-8211}{-8568}{cRed}
\pc{55}{-8568}{-8925}{-8568}{-8925}{cRed}
\pc{57}{-8800}{-9282}{-8925}{-9282}{cRed}
\pc{58}{-9282}{-9639}{-9282}{-9639}{cRed}
\pc{59}{-9282}{-9639}{-9282}{-9639}{cGrn}
\pc{67}{-8925}{-9282}{-8925}{-9282}{cGrn}
\pc{69}{-8925}{-9282}{-8925}{-9282}{cRed}
\pc{71}{-9282}{-9639}{-9282}{-9639}{cRed}
\pc{72}{-9282}{-9639}{-9282}{-9639}{cGrn}
\pc{75}{-9282}{-9639}{-9282}{-9639}{cRed}
\pc{80}{-7854}{-11424}{-9639}{-11424}{cRed}
\pc{81}{-10115}{-11424}{-11186}{-11424}{cGrn}
\pc{82}{-8925}{-11424}{-9639}{-11067}{cGrn}
\pc{83}{-7140}{-9639}{-7854}{-9639}{cGrn}
\pc{84}{-7140}{-8568}{-7854}{-8568}{cRed}
\pc{85}{-8211}{-9639}{-8568}{-9639}{cRed}
\pc{86}{-8925}{-10353}{-9639}{-10353}{cRed}
\pc{87}{-9282}{-11067}{-9996}{-9996}{black}
\pc{88}{-9639}{-11424}{-10353}{-11424}{cRed}
\pc{90}{-9996}{-11424}{-10710}{-11424}{cGrn}
\pc{91}{-9877}{-10710}{-10353}{-10710}{cGrn}
\pc{92}{-9996}{-10829}{-10353}{-10829}{cRed}
\pc{93}{-10710}{-11067}{-10710}{-11067}{cRed}
\pc{95}{-10710}{-11067}{-10710}{-11067}{cGrn}
\pc{96}{-10710}{-11067}{-10710}{-11067}{cRed}
\pc{97}{-10710}{-11067}{-10710}{-11067}{cGrn}
\pc{99}{-10710}{-11067}{-10710}{-11067}{cRed}
\pc{111}{-11067}{-11424}{-11067}{-11424}{cRed}
\pc{115}{-11424}{-11781}{-11424}{-11781}{cRed}
\pc{124}{-11424}{-12495}{-11900}{-12495}{cRed}
\end{axis}
\T{5}{917}{Using Binary}
\T{5}{932}{\copyright{} 2017 NinjaTrader, LLC}
%%%%%%%% frame lines and tags
\begin{scope}[x=.5pt,y=-.5pt,yshift=483.5pt]
\draw[black,line width=.6pt] (3,844.3) -- (2469,844.3);
\draw[black,line width=.6pt] (3,887.3) -- (2469,887.3);
\draw[black,line width=.6pt] (3,938.3) -- (2469,938.3);
\draw[black,line width=.6pt] (2469,2) -- (2469,938.3);
\fill[red] (2471,465) -- (2476,459) -- (2518,459) -- (2518,471) -- (2476,471) -- cycle;
\fill[black] (2471,513) -- (2476,507) -- (2518,507) -- (2518,519) -- (2476,519) -- cycle;
\draw[black,line width=.5pt] (2439,8) -- (2455,17) -- (2439,27) -- cycle;
\draw[black,line width=.5pt] (2457,8) rectangle (2459.5,27);
\fill[black!12] (2514,0) rectangle (2538,21);
\draw[black!40,line width=.5pt] (2514,0) -- (2514,21) -- (2538,21);
\fill[black] (2522,5) -- (2530,5) -- (2526,10) -- cycle;
\end{scope}
\N{anchor=west,text=white}{2478}{465}{5370.41}
\N{anchor=west,text=white}{2478}{513}{5362.25}
\end{tikzpicture}
\end{document}
